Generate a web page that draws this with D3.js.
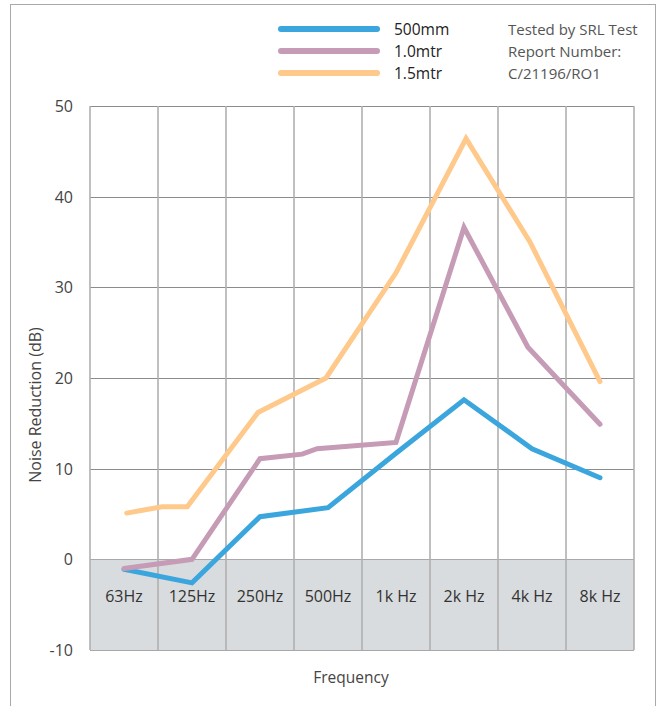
<!DOCTYPE html>
<html>
<head>
<meta charset="utf-8">
<script src="https://cdn.jsdelivr.net/npm/d3@7"></script>
<style>
  body { margin: 0; background: #fff; }
  text { font-family: "Open Sans", "Noto Sans", sans-serif; }
</style>
</head>
<body>
<div id="chart"></div>
<script>
const width = 659;
const height = 706;
const margin = {left: 90, right: 25, top: 106, bottom: 56};

// data (x = category index, fractional where the line bends between categories)
const categories = ["63Hz", "125Hz", "250Hz", "500Hz", "1k Hz", "2k Hz", "4k Hz", "8k Hz"];
const yTicks = [-10, 0, 10, 20, 30, 40, 50];
const series500mm = [[0, -1.1], [1, -2.6], [2, 4.7], [3, 5.7], [4, 11.7], [5, 17.6], [6, 12.2], [7, 9.0]];
const series10mtr = [[0, -1.0], [1, 0.0], [2, 11.1], [2.62, 11.6], [2.84, 12.2], [4, 12.9], [5, 36.6], [5.94, 23.4], [7, 14.9]];
const series15mtr = [[0.04, 5.1], [0.56, 5.8], [0.93, 5.8], [1.97, 16.2], [2.97, 20.0], [4, 31.6], [5.03, 46.4], [5.97, 35.0], [7, 19.6]];
const seriesNames = ["500mm", "1.0mtr", "1.5mtr"];
const seriesColors = ["#3aa6dd", "#c59bb6", "#fec98b"];
const noteLines = ["Tested by SRL Test", "Report Number:", "C/21196/RO1"];

const svg = d3.select("#chart")
    .append("svg")
    .attr("width", width)
    .attr("height", height);

// outer frame
svg.append("rect")
    .attr("x", 10.5).attr("y", 4.5)
    .attr("width", 645).attr("height", 720)
    .attr("fill", "none")
    .attr("stroke", "#a9a9a9")
    .attr("stroke-width", 1);

const innerW = width - margin.left - margin.right;
const innerH = height - margin.top - margin.bottom;

const xBand = d3.scaleBand()
    .domain(categories)
    .range([margin.left, margin.left + innerW]);
const xPos = d3.scaleLinear()
    .domain([0, categories.length - 1])
    .range([margin.left + xBand.bandwidth() / 2, margin.left + innerW - xBand.bandwidth() / 2]);
const yScale = d3.scaleLinear()
    .domain([-10, 50])
    .range([margin.top + innerH, margin.top]);

// grey band below zero
svg.append("rect")
    .attr("x", margin.left)
    .attr("y", yScale(0))
    .attr("width", innerW)
    .attr("height", yScale(-10) - yScale(0))
    .attr("fill", "#d9dcde");

// horizontal grid
svg.append("g")
    .selectAll("line")
    .data(yTicks)
    .enter()
    .append("line")
        .attr("x1", margin.left)
        .attr("x2", margin.left + innerW)
        .attr("y1", d => Math.round(yScale(d)) + 0.5)
        .attr("y2", d => Math.round(yScale(d)) + 0.5)
        .attr("stroke", d => (d <= 0 ? "#a8a8a8" : "#8c8c8c"))
        .attr("stroke-width", 1);

// vertical grid (category boundaries)
const bounds = categories.map(c => xBand(c)).concat([margin.left + innerW]);
svg.append("g")
    .selectAll("line")
    .data(bounds)
    .enter()
    .append("line")
        .attr("x1", d => d)
        .attr("x2", d => d)
        .attr("y1", yScale(50))
        .attr("y2", yScale(-10))
        .attr("stroke", "#b0b0b0")
        .attr("stroke-width", 1.6);

// y tick labels
svg.append("g")
    .selectAll("text")
    .data(yTicks)
    .enter()
    .append("text")
        .attr("x", 73)
        .attr("y", d => yScale(d) + 6)
        .attr("text-anchor", "end")
        .attr("font-size", 16)
        .attr("fill", "#444")
        .text(d => d);

// category labels inside the grey band
svg.append("g")
    .selectAll("text")
    .data(categories)
    .enter()
    .append("text")
        .attr("x", d => xBand(d) + xBand.bandwidth() / 2)
        .attr("y", yScale(-4.75))
        .attr("text-anchor", "middle")
        .attr("font-size", 16)
        .attr("fill", "#333")
        .text(d => d);

// axis titles
svg.append("text")
    .attr("transform", "translate(41,405) rotate(-90)")
    .attr("text-anchor", "middle")
    .attr("font-size", 16)
    .attr("fill", "#444")
    .text("Noise Reduction (dB)");

svg.append("text")
    .attr("x", 351)
    .attr("y", 683)
    .attr("text-anchor", "middle")
    .attr("font-size", 15.5)
    .attr("fill", "#444")
    .text("Frequency");

// lines
const line = d3.line()
    .x(d => xPos(d[0]))
    .y(d => yScale(d[1]));

const allSeries = [series500mm, series10mtr, series15mtr];
svg.append("g")
    .selectAll("path")
    .data(allSeries)
    .enter()
    .append("path")
        .attr("d", line)
        .attr("fill", "none")
        .attr("stroke", (d, i) => seriesColors[i])
        .attr("stroke-width", 5)
        .attr("stroke-linecap", "round")
        .attr("stroke-linejoin", "miter");

// legend
const legend = svg.append("g")
    .selectAll("g")
    .data(seriesNames)
    .enter()
    .append("g")
        .attr("transform", (d, i) => `translate(0,${29 + i * 22})`);
legend.append("line")
    .attr("x1", 281).attr("x2", 377)
    .attr("y1", 0).attr("y2", 0)
    .attr("stroke", (d, i) => seriesColors[i])
    .attr("stroke-width", 6)
    .attr("stroke-linecap", "round");
legend.append("text")
    .attr("x", 394)
    .attr("y", 6)
    .attr("font-size", 15.5)
    .attr("fill", "#222")
    .text(d => d);

svg.append("g")
    .selectAll("text")
    .data(noteLines)
    .enter()
    .append("text")
        .attr("x", 508)
        .attr("y", (d, i) => 35 + i * 22)
        .attr("font-size", 15)
        .attr("fill", "#555")
        .text(d => d);
</script>
</body>
</html>
